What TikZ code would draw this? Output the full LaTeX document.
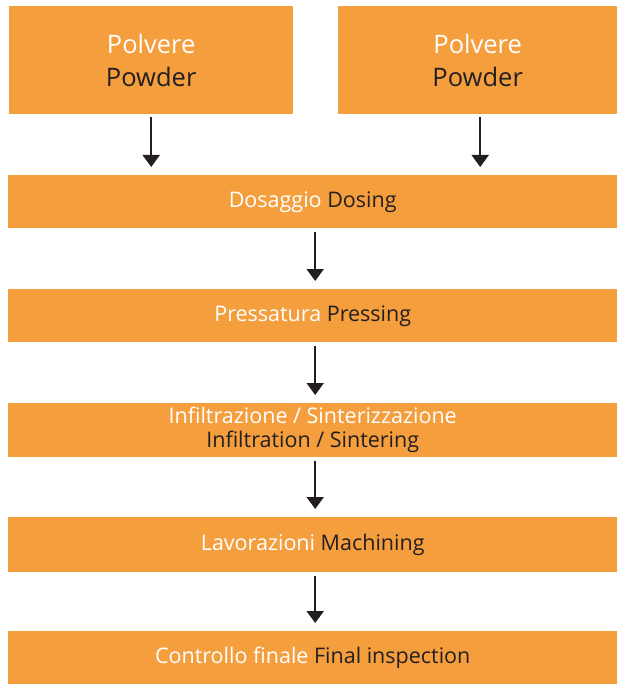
\documentclass[tikz,border=0pt]{standalone}
\usepackage{fontspec}
\setmainfont{Open Sans}
\usetikzlibrary{arrows.meta}
\definecolor{boxorange}{RGB}{245,158,62}
\definecolor{darktext}{RGB}{35,31,32}
\tikzset{
  bigbox/.style={fill=boxorange, draw=none, anchor=north west, inner sep=0pt, align=center, font=\fontsize{25.5}{33}\selectfont, text=white},
  bar/.style={fill=boxorange, draw=none, anchor=north west, inner sep=0pt, minimum width=609pt, align=center, font=\fontsize{21.5}{24}\selectfont, text=white},
  arr/.style={line width=2pt, draw=darktext, -{Triangle[width=17pt,length=12pt]}},
  en/.style={text=darktext}
}
\begin{document}
\begin{tikzpicture}[x=1pt,y=-1pt]
\useasboundingbox (0,0) rectangle (617,684);
\node[bigbox, minimum width=284pt, minimum height=108pt] (p1) at (9,6) {Polvere\\\textcolor{darktext}{Powder}};
\node[bigbox, minimum width=279pt, minimum height=108pt] (p2) at (338,6) {Polvere\\\textcolor{darktext}{Powder}};
\node[bar, minimum height=53pt] (dos) at (8,175) {Dosaggio \textcolor{darktext}{Dosing}};
\node[bar, minimum height=53pt] (pre) at (8,289) {Pressatura \textcolor{darktext}{Pressing}};
\node[bar, minimum height=54pt] (inf) at (8,403) {Infiltrazione / Sinterizzazione\\\textcolor{darktext}{Infiltration / Sintering}};
\node[bar, minimum height=55pt] (mac) at (8,517) {Lavorazioni \textcolor{darktext}{Machining}};
\node[bar, minimum height=53pt] (fin) at (8,631) {Controllo finale \textcolor{darktext}{Final inspection}};
\draw[arr] ([yshift=-3pt]p1.south) -- ([yshift=8pt]p1.south |- dos.north);
\draw[arr] ([xshift=2.5pt,yshift=-3pt]p2.south) -- ([xshift=2.5pt,yshift=8pt]p2.south |- dos.north);
\draw[arr] ([xshift=2.5pt,yshift=-4pt]dos.south) -- ([xshift=2.5pt,yshift=8pt]pre.north);
\draw[arr] ([xshift=2.5pt,yshift=-4pt]pre.south) -- ([xshift=2.5pt,yshift=8pt]inf.north);
\draw[arr] ([xshift=2.5pt,yshift=-4pt]inf.south) -- ([xshift=2.5pt,yshift=8pt]mac.north);
\draw[arr] ([xshift=2.5pt,yshift=-4pt]mac.south) -- ([xshift=2.5pt,yshift=8pt]fin.north);
\end{tikzpicture}
\end{document}
